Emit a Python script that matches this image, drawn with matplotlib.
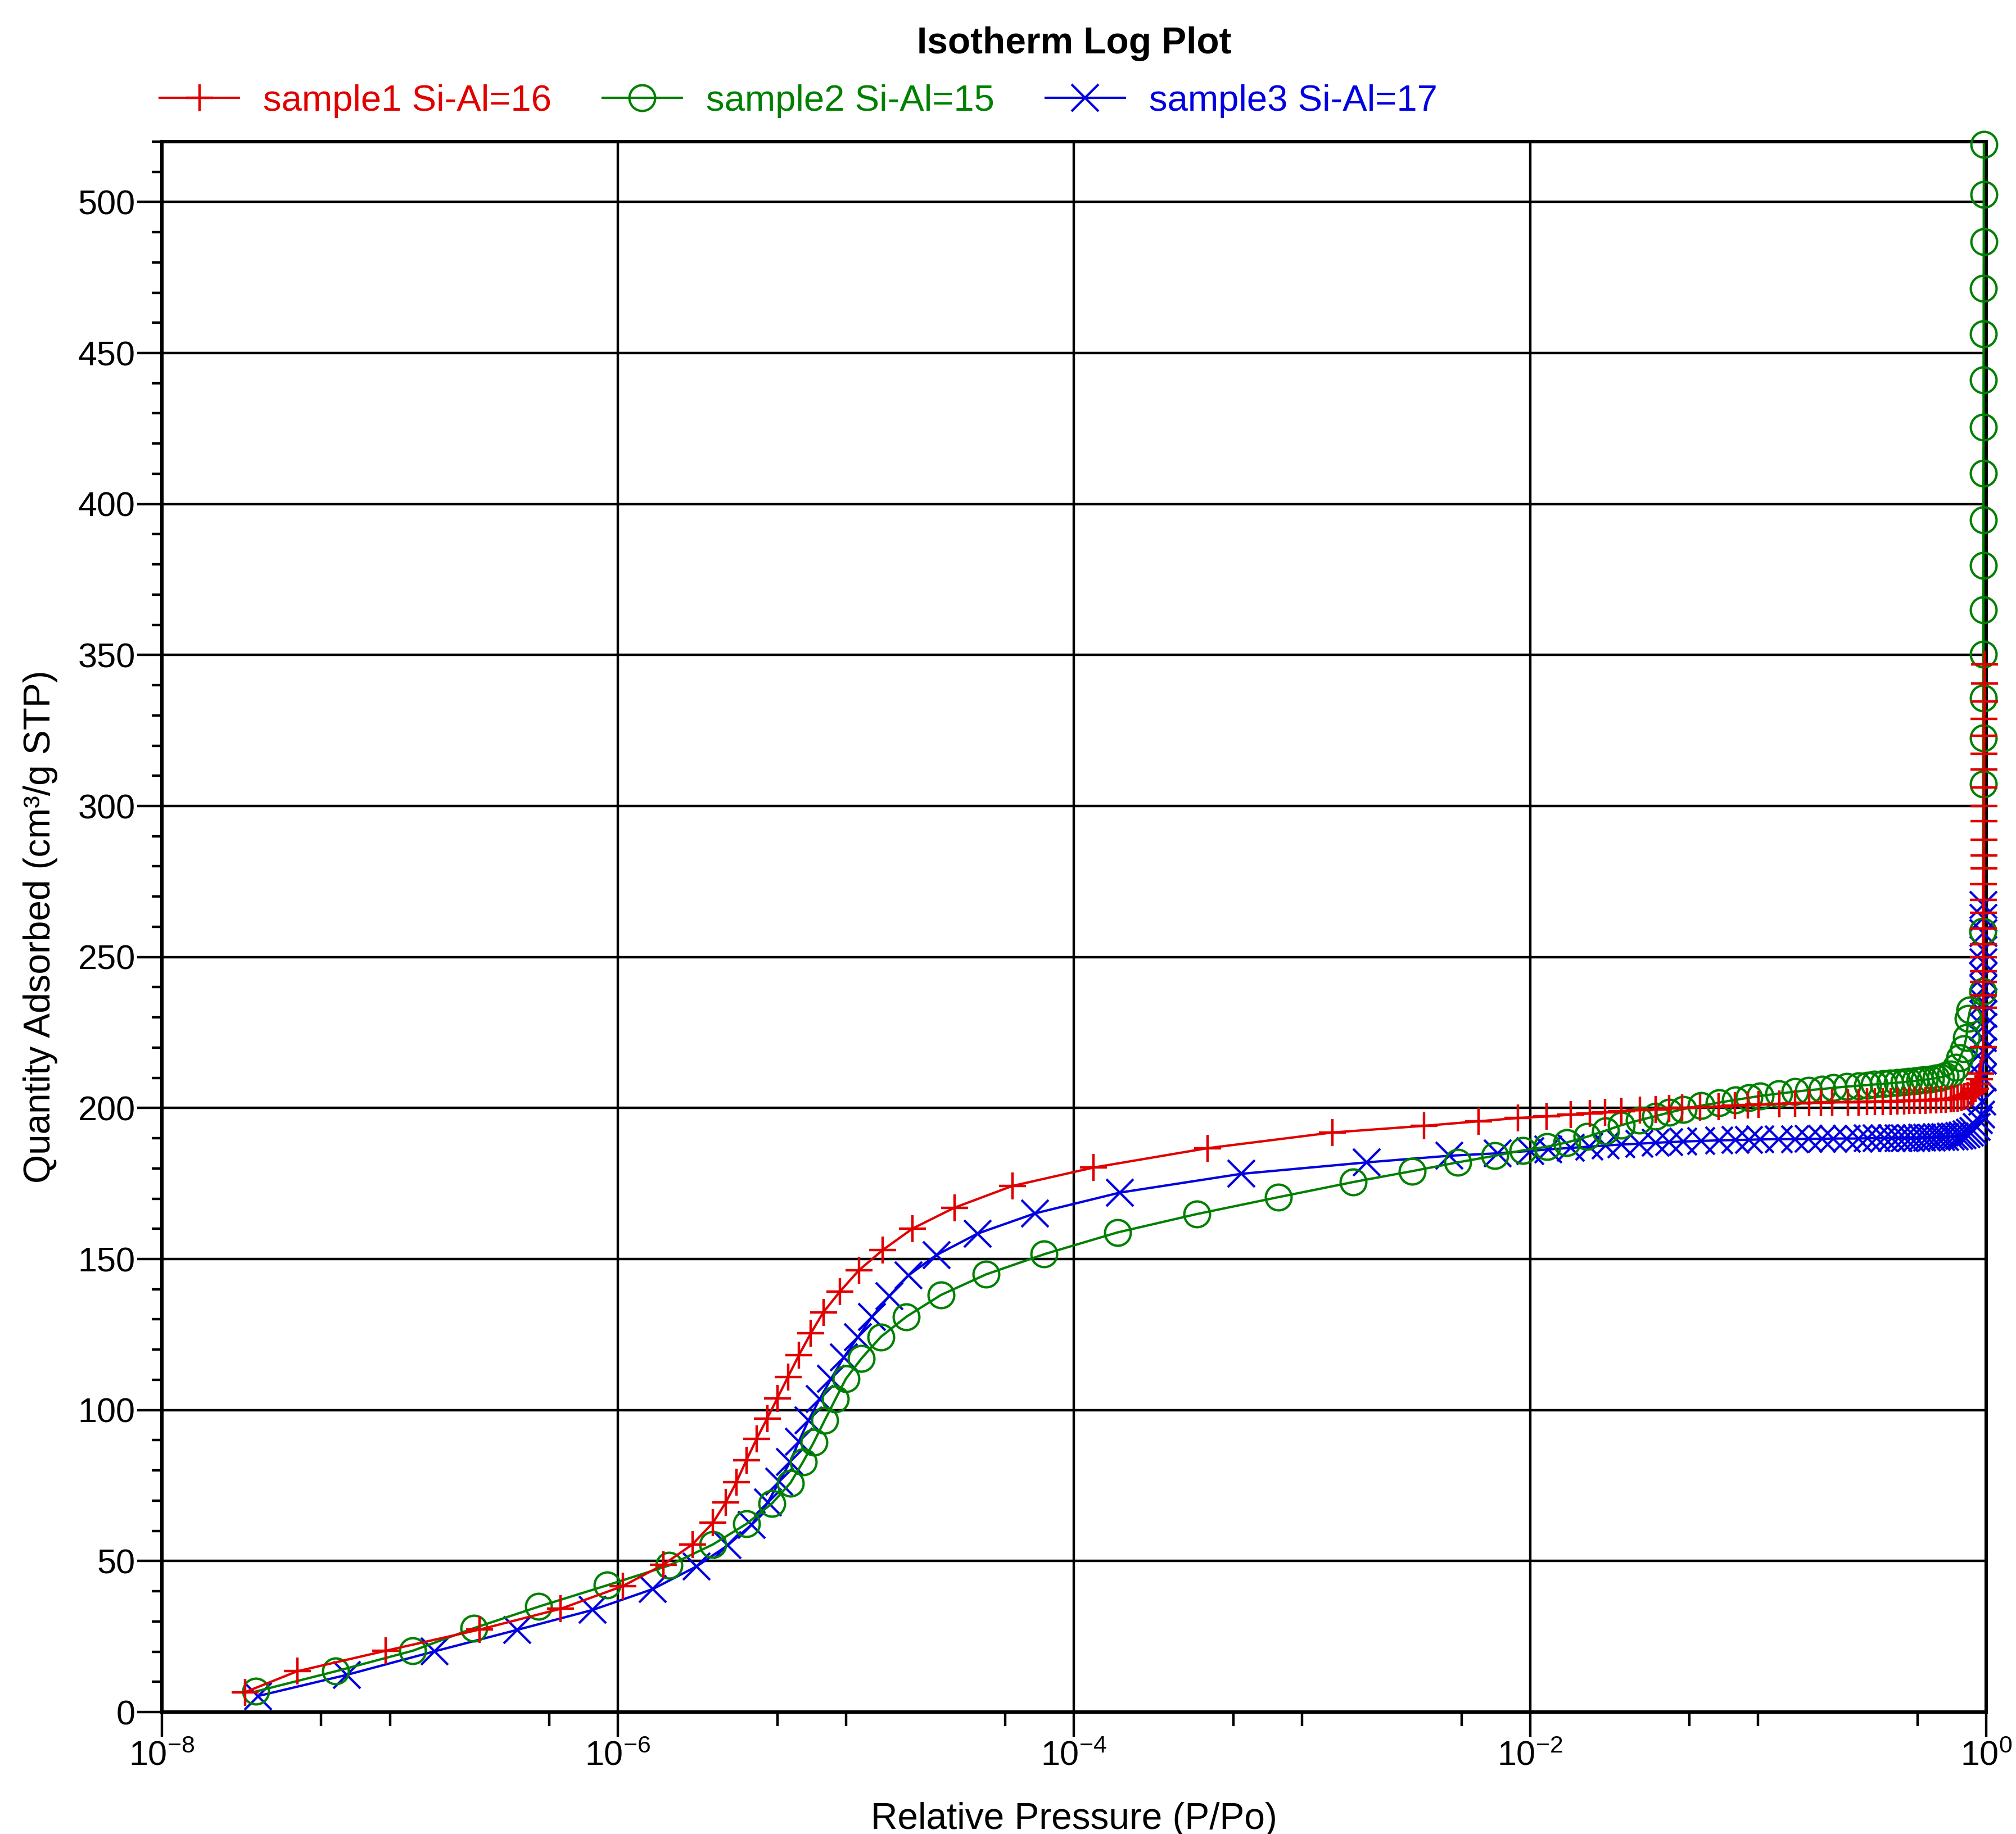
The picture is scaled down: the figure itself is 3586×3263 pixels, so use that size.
import matplotlib
matplotlib.use("Agg")
import matplotlib.pyplot as plt
from matplotlib.ticker import MultipleLocator, FixedLocator, NullFormatter

plt.rcParams['font.family'] = ['Liberation Sans', 'DejaVu Sans']
plt.rcParams['mathtext.fontset'] = 'custom'
plt.rcParams['mathtext.rm'] = 'Liberation Sans'
plt.rcParams['mathtext.it'] = 'Liberation Sans:italic'
plt.rcParams['mathtext.bf'] = 'Liberation Sans:bold'

# sample1 Si-Al=16 (red, +)
s1_p = [2.32e-8, 3.92e-8, 9.6e-8, 2.47e-7, 5.61e-7, 1.05e-6, 1.58e-6, 2.12e-6, 2.61e-6, 2.97e-6,
        3.31e-6, 3.66e-6, 4.06e-6, 4.51e-6, 5.00e-6, 5.57e-6, 6.21e-6, 7.01e-6, 7.96e-6, 9.40e-6,
        1.14e-5, 1.45e-5, 1.96e-5, 2.99e-5, 5.37e-5, 1.22e-4, 3.85e-4, 1.36e-3, 3.42e-3, 5.94e-3,
        8.85e-3, 0.0118, 0.0151, 0.0183, 0.0213, 0.0251, 0.0303, 0.0356, 0.0406, 0.0463,
        0.0557, 0.0670, 0.0793, 0.0902, 0.1005, 0.124, 0.145, 0.167, 0.189, 0.211,
        0.248, 0.276, 0.300, 0.326, 0.353, 0.382, 0.409, 0.436, 0.460, 0.485,
        0.513, 0.541, 0.569, 0.603, 0.634, 0.665, 0.701, 0.72, 0.75, 0.78,
        0.80, 0.83, 0.86, 0.88, 0.90, 0.92, 0.935, 0.946, 0.970,
        0.971, 0.971, 0.972, 0.972, 0.973, 0.973, 0.974, 0.974, 0.975, 0.975,
        0.976, 0.976, 0.977, 0.977, 0.978, 0.978, 0.979, 0.979, 0.980, 0.980,
        0.981, 0.981, 0.982]
s1_q = [6.6, 13.5, 20.3, 27.3, 34.2, 41.7, 48.8, 55.5, 62.7, 69.4,
        76.2, 83.4, 90.5, 97.2, 103.9, 111.0, 118.1, 125.4, 132.4, 139.2,
        146.3, 153.0, 160.1, 167.0, 174.2, 180.3, 186.7, 191.9, 194.1, 195.6,
        196.7, 197.2, 197.8, 198.2, 198.5, 199.0, 199.3, 199.6, 199.8, 200.0,
        200.3, 200.5, 200.8, 201.0, 201.1, 201.4, 201.5, 201.7, 201.8, 201.9,
        202.0, 202.0, 202.1, 202.1, 202.2, 202.2, 202.3, 202.3, 202.4, 202.4,
        202.5, 202.5, 202.6, 202.7, 202.8, 202.9, 203.0, 203.1, 203.3, 203.5,
        203.8, 204.2, 204.8, 205.5, 206.4, 207.8, 209.5, 211.5, 220.1,
        233.1, 237.3, 241.7, 245.3, 250.0, 254.3, 259.5, 264.7, 269.0, 274.2,
        279.4, 283.6, 288.8, 294.9, 300.0, 306.1, 312.1, 317.3, 323.3, 328.9,
        334.6, 340.6, 346.9]

# sample2 Si-Al=15 (green, o)
s2_p = [2.58e-8, 5.79e-8, 1.26e-7, 2.34e-7, 4.49e-7, 8.99e-7, 1.67e-6, 2.61e-6, 3.66e-6, 4.74e-6,
        5.70e-6, 6.49e-6, 7.23e-6, 8.05e-6, 8.99e-6, 1.00e-5, 1.17e-5, 1.42e-5, 1.84e-5, 2.61e-5,
        4.11e-5, 7.40e-5, 1.55e-4, 3.46e-4, 7.89e-4, 1.68e-3, 3.04e-3, 4.81e-3, 7.00e-3, 9.33e-3,
        0.0119, 0.0145, 0.0178, 0.0214, 0.0251, 0.0302, 0.0355, 0.0407, 0.0468, 0.0562,
        0.0676, 0.0794, 0.0912, 0.102, 0.123, 0.145, 0.166, 0.191, 0.214, 0.245,
        0.275, 0.302, 0.324, 0.355, 0.380, 0.407, 0.437, 0.457, 0.490, 0.513,
        0.537, 0.569, 0.603, 0.631, 0.661, 0.700, 0.735, 0.767, 0.797, 0.819,
        0.835, 0.850, 0.968, 0.969, 0.970, 0.970, 0.971, 0.971, 0.972, 0.972,
        0.973, 0.973, 0.974, 0.974, 0.975, 0.975, 0.976, 0.976, 0.977]
s2_q = [6.8, 13.5, 20.3, 27.8, 34.9, 42.0, 48.5, 55.5, 62.3, 69.1,
        75.8, 82.9, 89.4, 96.5, 103.6, 110.4, 117.1, 124.2, 130.9, 138.1,
        144.9, 151.6, 158.8, 164.9, 170.5, 175.5, 179.1, 182.0, 184.2, 186.0,
        187.2, 188.6, 190.5, 192.5, 194.3, 196.0, 197.3, 198.5, 199.6, 200.8,
        201.8, 202.7, 203.4, 204.0, 204.8, 205.4, 205.9, 206.3, 206.7, 207.1,
        207.4, 207.6, 207.8, 208.0, 208.2, 208.4, 208.6, 208.8, 209.0, 209.2,
        209.4, 209.6, 209.9, 210.2, 210.6, 211.2, 213.5, 216.6, 219.7, 223.4,
        229.6, 232.5, 238.6, 258.5, 307.3, 322.5, 335.7, 350.3, 365.0, 379.6,
        394.8, 410.1, 425.4, 441.0, 456.3, 471.4, 486.8, 502.5, 519.0]

# sample3 Si-Al=17 (blue, x)
s3_p = [2.64e-8, 6.46e-8, 1.57e-7, 3.61e-7, 7.74e-7, 1.42e-6, 2.21e-6, 3.03e-6, 3.85e-6, 4.54e-6,
        5.10e-6, 5.69e-6, 6.21e-6, 6.84e-6, 7.66e-6, 8.61e-6, 9.79e-6, 1.13e-5, 1.30e-5, 1.55e-5,
        1.88e-5, 2.49e-5, 3.77e-5, 6.73e-5, 1.59e-4, 5.40e-4, 1.92e-3, 4.43e-3, 7.19e-3, 0.0100,
        0.0120, 0.0151, 0.0182, 0.0214, 0.0251, 0.0302, 0.0355, 0.0407, 0.0468, 0.0562,
        0.0676, 0.0794, 0.0912, 0.102, 0.123, 0.145, 0.166, 0.191, 0.214, 0.245,
        0.275, 0.302, 0.330, 0.358, 0.385, 0.412, 0.440, 0.468, 0.495, 0.523,
        0.550, 0.578, 0.606, 0.634, 0.662, 0.70, 0.73, 0.76, 0.79, 0.82,
        0.85, 0.88, 0.91, 0.93, 0.95, 0.960, 0.965, 0.967, 0.968, 0.969,
        0.970, 0.970, 0.971, 0.971, 0.972, 0.972, 0.973, 0.973, 0.974, 0.974]
s3_q = [5.3, 12.3, 20.1, 27.2, 33.8, 40.7, 48.2, 55.2, 62.0, 69.4,
        76.3, 82.9, 89.6, 96.5, 103.6, 110.4, 117.5, 124.2, 130.9, 137.8,
        144.6, 151.3, 158.4, 165.1, 172.0, 178.2, 182.0, 184.2, 185.0, 185.8,
        186.3, 186.8, 187.2, 187.6, 187.9, 188.2, 188.5, 188.7, 188.9, 189.1,
        189.3, 189.4, 189.5, 189.6, 189.7, 189.7, 189.8, 189.8, 189.9, 189.9,
        189.9, 190.0, 190.0, 190.0, 190.0, 190.1, 190.1, 190.1, 190.1, 190.2,
        190.2, 190.2, 190.3, 190.3, 190.4, 190.5, 190.6, 190.8, 191.0, 191.3,
        191.8, 192.5, 193.8, 196.0, 197.8, 202.1, 210.1, 215.7, 218.8, 223.2,
        226.9, 231.2, 235.0, 239.6, 243.7, 248.3, 252.4, 258.0, 262.9, 267.3]

labels = ['sample1 Si-Al=16', 'sample2 Si-Al=15', 'sample3 Si-Al=17']
xticks = [1e-8, 1e-6, 1e-4, 1e-2, 1]
xtick_labels = [r'$10^{-8}$', r'$10^{-6}$', r'$10^{-4}$', r'$10^{-2}$', r'$10^{0}$']
xminor = [5e-8, 1e-7, 5e-7, 5e-6, 1e-5, 5e-5, 5e-4, 1e-3, 5e-3, 5e-2, 1e-1, 5e-1]

RED = '#e00000'
GREEN = '#008000'
BLUE = '#0000e0'

fig = plt.figure(figsize=(17.93, 16.315), dpi=200)
ax = fig.add_axes([0.0803, 0.0665, 0.9049, 0.8563])

# blue under green under red, legend keeps sample order
l3, = ax.plot(s3_p, s3_q, color=BLUE, marker='x', ms=17, mew=1.5, lw=1.5,
              label=labels[2], clip_on=False, zorder=3)
l2, = ax.plot(s2_p, s2_q, color=GREEN, marker='o', mfc='none', ms=16.5, mew=1.5, lw=1.5,
              label=labels[1], clip_on=False, zorder=4)
l1, = ax.plot(s1_p, s1_q, color=RED, marker='+', ms=17, mew=1.6, lw=1.5,
              label=labels[0], clip_on=False, zorder=5)

ax.set_xscale('log')
ax.set_xlim(1e-8, 1)
ax.set_ylim(0, 520)
ax.set_xticks(xticks, labels=xtick_labels)
ax.xaxis.set_minor_locator(FixedLocator(xminor))
ax.xaxis.set_minor_formatter(NullFormatter())
ax.yaxis.set_major_locator(MultipleLocator(50))
ax.yaxis.set_minor_locator(MultipleLocator(10))

ax.grid(True, which='major', color='black', lw=1.6)
ax.set_axisbelow(True)
for s in ax.spines.values():
    s.set_linewidth(2.2)

ax.tick_params(axis='both', which='major', direction='out', length=16, width=1.6, labelsize=22)
ax.tick_params(axis='x', which='minor', direction='out', length=9, width=1.6)
ax.tick_params(axis='y', which='minor', direction='out', length=6.5, width=1.6)
ax.tick_params(axis='y', which='major', pad=1)
ax.tick_params(axis='x', which='major', pad=2)

ax.set_xlabel('Relative Pressure (P/Po)', fontsize=23.7)
ax.xaxis.set_label_coords(0.5, -0.0744)
ax.xaxis.label.set_va('baseline')
ax.set_ylabel('Quantity Adsorbed (cm³/g STP)', fontsize=23.7)
ax.yaxis.set_label_coords(-0.0666, 0.5)
ax.yaxis.label.set_va('center')

ax.set_title('Isotherm Log Plot', fontsize=23.7, fontweight='bold', pad=56.5)

ax.legend(handles=[l1, l2, l3], loc='center left', bbox_to_anchor=(-0.0012, 1.0258),
          ncol=3, frameon=False, fontsize=23.5, handlelength=2.16, handletextpad=0.66,
          columnspacing=1.39, borderpad=0, borderaxespad=0, numpoints=1,
          labelcolor='linecolor')

fig.savefig('out.png', dpi=200)
